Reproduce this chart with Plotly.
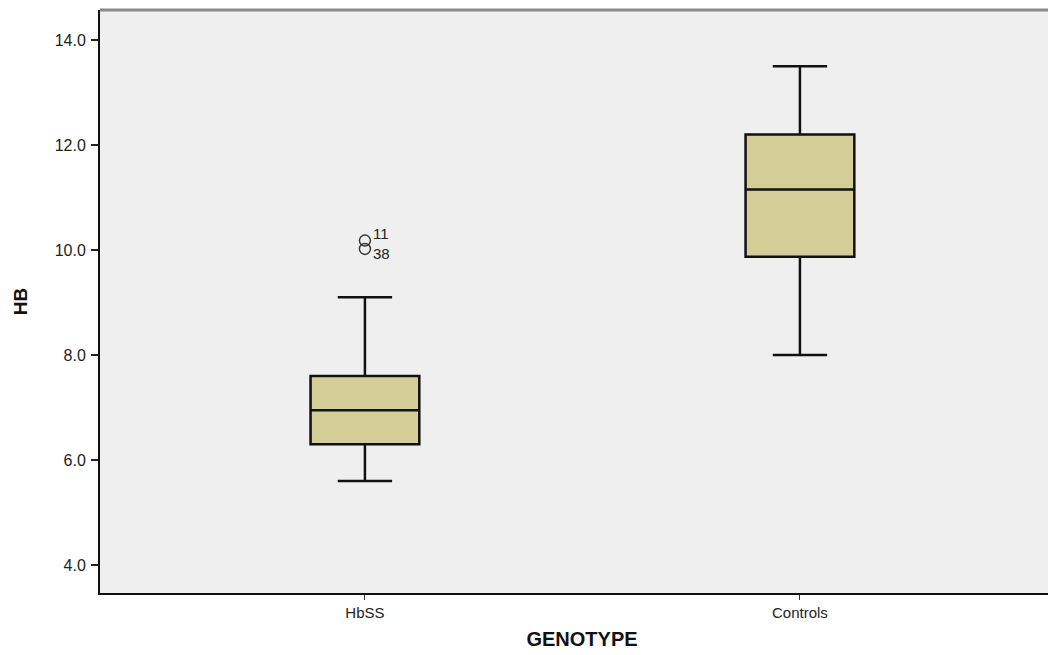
import plotly.graph_objects as go

categories = ["HbSS", "Controls"]
q1 = [6.3, 9.87]
median = [6.95, 11.15]
q3 = [7.6, 12.2]
lower_fence = [5.6, 8.0]
upper_fence = [9.1, 13.5]
outlier_values = [10.18, 10.02]
outlier_labels = ["11", "38"]
outlier_group = ["HbSS", "HbSS"]
y_ticks = [4.0, 6.0, 8.0, 10.0, 12.0, 14.0]

cat_pos = {c: i for i, c in enumerate(categories)}

fig = go.Figure()
fig.add_trace(go.Box(
    x=[cat_pos[c] for c in categories],
    q1=q1, median=median, q3=q3,
    lowerfence=lower_fence, upperfence=upper_fence,
    fillcolor="#d3ce97",
    line=dict(color="#111111", width=2.5),
    width=0.25,
    whiskerwidth=0.5,
    boxpoints=False,
    hoverinfo="skip",
    showlegend=False,
))

ox = [cat_pos[g] for g in outlier_group]
fig.add_trace(go.Scatter(
    x=ox, y=outlier_values, mode="markers",
    marker=dict(symbol="circle-open", size=11, color="#333333", line=dict(width=1.4)),
    showlegend=False, hoverinfo="skip",
))
for xv, yv, lab, dy in zip(ox, outlier_values, outlier_labels, [7, -5]):
    fig.add_annotation(x=xv, y=yv, text=lab, showarrow=False, xanchor="left",
                       xshift=6, yshift=dy, font=dict(size=15, color="#222"))

fig.add_shape(type="line", xref="paper", yref="paper", x0=0, x1=1, y0=1, y1=1,
              line=dict(color="#8a8a8a", width=3))

fig.update_layout(
    width=1056, height=647,
    margin=dict(l=92, r=0, t=2, b=62),
    paper_bgcolor="white", plot_bgcolor="#efefef",
    font=dict(family="Liberation Sans, Arial, sans-serif", size=15, color="#222"),
    xaxis=dict(
        range=[-0.609, 1.607], tickmode="array",
        tickvals=[cat_pos[c] for c in categories], ticktext=categories,
        showgrid=False, zeroline=False, showline=True, linecolor="#111", linewidth=2,
        ticks="outside", ticklen=5, tickcolor="#333", tickwidth=1,
        tickfont=dict(size=15),
        title=dict(text="<b>GENOTYPE</b>", font=dict(size=20, color="#111"), standoff=12),
    ),
    yaxis=dict(
        range=[3.467, 14.571], tickmode="array", tickvals=y_ticks,
        tickformat=".1f", showgrid=False, zeroline=False, showline=True,
        linecolor="#111", linewidth=2, ticks="outside", ticklen=7, tickcolor="#222",
        tickwidth=2, ticklabelstandoff=2, tickfont=dict(size=16),
        title=dict(text="<b>HB</b>", font=dict(size=19, color="#111"), standoff=22),
    ),
)

fig.write_html("out.html")
